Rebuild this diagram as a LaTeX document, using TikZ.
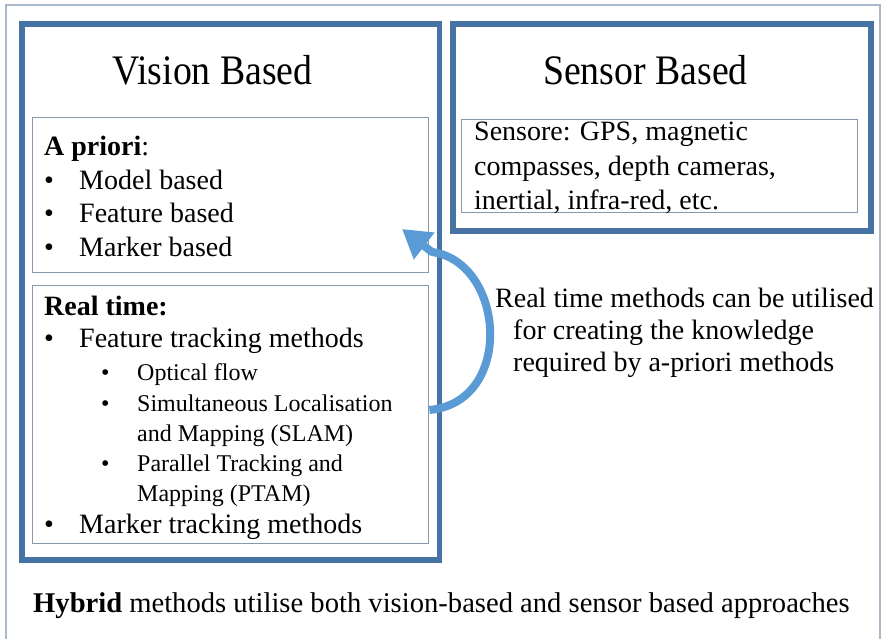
\documentclass[tikz,border=0pt]{standalone}
\usepackage{fontspec}
\setmainfont{Liberation Serif}
\newfontfamily\headingfont[FakeStretch=0.9]{Liberation Serif}
\usetikzlibrary{arrows.meta}
\definecolor{frameblue}{HTML}{4672A4}
\definecolor{thinframe}{HTML}{8798AC}
\definecolor{outerframe}{HTML}{A9B9CA}
\definecolor{arrowblue}{HTML}{5B9BD5}
\begin{document}
\begin{tikzpicture}[x=1pt,y=-1pt,
  bigbox/.style={draw=frameblue, line width=5.5pt, inner sep=0pt, anchor=north west},
  smallbox/.style={draw=thinframe, line width=1.4pt, inner sep=0pt, anchor=north west},
  txt/.style={anchor=base west, inner sep=0pt, font=\fontsize{28}{32}\selectfont},
  subtxt/.style={anchor=base west, inner sep=0pt, font=\fontsize{24}{28}\selectfont},
  heading/.style={anchor=base, inner sep=0pt, font=\headingfont\fontsize{42}{46}\selectfont},
  bigbullet/.style={anchor=base west, inner sep=0pt, font=\fontsize{28}{32}\selectfont},
  smallbullet/.style={anchor=base west, inner sep=0pt, font=\fontsize{24}{28}\selectfont},
  bendarrow/.style={draw=arrowblue, line width=8pt, line join=round,
                    -{Triangle[length=28pt,width=32pt]}}
]
\useasboundingbox (0,0) rectangle (884,638);
\fill[white] (0,0) rectangle (884,638);

% outer frame (runs off the bottom)
\draw[outerframe, line width=1.3pt] (6,640) -- (6,5) -- (880,5) -- (880,640);

% main panels
\node[bigbox, minimum width=417.5pt, minimum height=536pt] (vision) at (19,21) {};
\node[bigbox, minimum width=418pt, minimum height=207pt] (sensor) at (450,21) {};

\node[heading] (visiontitle) at (212.5,84) {Vision Based};
\node[heading] (sensortitle) at (645.5,84) {Sensor Based};

% inner boxes
\node[smallbox, minimum width=396pt, minimum height=155pt] (apriori) at (32,117) {};
\node[smallbox, minimum width=396pt, minimum height=258pt] (realtime) at (32,285) {};
\node[smallbox, minimum width=396pt, minimum height=93pt] (sensore) at (461,119) {};

% a priori list
\node[txt] (aphead) at (44,155) {\textbf{A priori}:};
\node[bigbullet] (apb1) at (44,189) {•};
\node[txt] (ap1) at (79,189) {Model based};
\node[bigbullet] (apb2) at (44,222) {•};
\node[txt] (ap2) at (79,222) {Feature based};
\node[bigbullet] (apb3) at (44,256) {•};
\node[txt] (ap3) at (79,256) {Marker based};

% real time list
\node[txt] (rthead) at (44,315) {\textbf{Real time:}};
\node[bigbullet] (rtb1) at (44,347) {•};
\node[txt] (rt1) at (79,347) {Feature tracking methods};
\node[smallbullet] (rtb11) at (101,380) {•};
\node[subtxt] (rt11) at (137,380) {Optical flow};
\node[smallbullet] (rtb12) at (101,411) {•};
\node[subtxt] (rt12) at (137,411) {Simultaneous Localisation};
\node[subtxt] (rt12b) at (137,441) {and Mapping (SLAM)};
\node[smallbullet] (rtb13) at (101,471) {•};
\node[subtxt] (rt13) at (137,471) {Parallel Tracking and};
\node[subtxt] (rt13b) at (137,501) {Mapping (PTAM)};
\node[bigbullet] (rtb2) at (44,533) {•};
\node[txt] (rt2) at (79,533) {Marker tracking methods};

% sensor list
\node[txt] (s1) at (474,140) {Sensore: GPS, magnetic};
\node[txt] (s2) at (474,175) {compasses, depth cameras,};
\node[txt] (s3) at (474,209) {inertial, infra-red, etc.};

% note beside the arrow
\node[txt] (n1) at (495,307) {Real time methods can be utilised};
\node[txt] (n2) at (513,339) {for creating the knowledge};
\node[txt] (n3) at (513,371) {required by a-priori methods};

% bottom line
\node[txt, font=\fontsize{28.6}{32}\selectfont] (hybrid) at (33,612)
  {\textbf{Hybrid} methods utilise both vision-based and sensor based approaches};

% curved arrow from the real time box back into the a priori box
\coordinate (arrowstart) at (realtime.east |- 0,410);
\coordinate (arrowbend) at (432,252);
\coordinate (arrowtip) at (402,229);
\draw[bendarrow] (arrowstart) .. controls (515,402) and (505,262) .. (arrowbend) -- (arrowtip);
\end{tikzpicture}
\end{document}
